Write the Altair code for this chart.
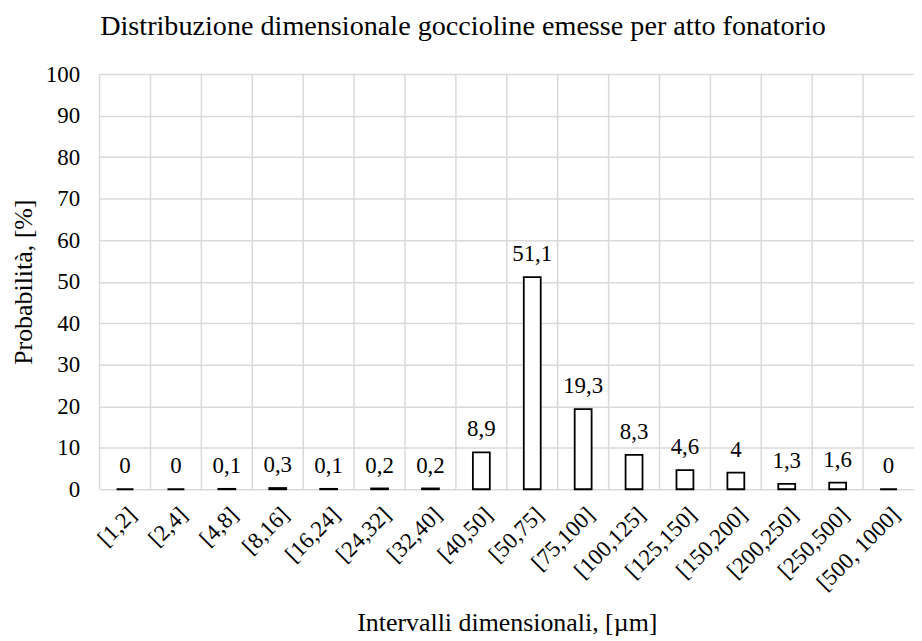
import altair as alt
import pandas as pd

categories = ["[1,2]", "[2,4]", "[4,8]", "[8,16]", "[16,24]", "[24,32]", "[32,40]",
              "[40,50]", "[50,75]", "[75,100]", "[100,125]", "[125,150]", "[150,200]",
              "[200,250]", "[250,500]", "[500, 1000]"]
values = [0, 0, 0.1, 0.3, 0.1, 0.2, 0.2, 8.9, 51.1, 19.3, 8.3, 4.6, 4, 1.3, 1.6, 0]
labels = [f"{v:g}".replace(".", ",") for v in values]

df = pd.DataFrame({"cat": categories, "val": values, "lab": labels})

FONT = "Liberation Serif"
GRID = "#d9d9d9"

xscale = alt.Scale(domain=categories, paddingInner=0, paddingOuter=0)

base = alt.Chart(df)

vgrid = base.mark_rule(color=GRID, strokeWidth=1.5).encode(
    x=alt.X("cat:N", bandPosition=0, scale=xscale, sort=categories)
)

bars = base.mark_bar(size=17, fill="white", stroke="black", strokeWidth=1.8).encode(
    x=alt.X("cat:N", scale=xscale, sort=categories,
            axis=alt.Axis(title="Intervalli dimensionali, [µm]", labelAngle=-45,
                          labelAlign="right", labelBaseline="top", labelPadding=14,
                          ticks=False, domain=False, grid=False, titlePadding=15)),
    y=alt.Y("val:Q", scale=alt.Scale(domain=[0, 100]),
            axis=alt.Axis(title="Probabilità, [%]", values=list(range(0, 101, 10)),
                          ticks=False, domain=False, labelPadding=20, titlePadding=9,
                          gridColor=GRID, gridWidth=1.5, gridOpacity=1))
)

text = base.mark_text(font=FONT, fontSize=23, baseline="middle", dy=-23, color="black").encode(
    x=alt.X("cat:N", scale=xscale, sort=categories),
    y=alt.Y("val:Q"),
    text="lab:N"
)

chart = alt.layer(vgrid, bars, text).properties(
    width=818, height=417,
    title=alt.TitleParams("Distribuzione dimensionale goccioline emesse per atto fonatorio",
                          font=FONT, fontSize=28.3, fontWeight="normal", color="black",
                          offset=22, dx=-44),
    padding={"left": 2, "top": 2, "right": 0, "bottom": 0}
).configure_axis(
    labelFont=FONT, titleFont=FONT, labelFontSize=23, titleFontSize=26,
    labelColor="black", titleColor="black", titleFontWeight="normal"
).configure_view(stroke=None)

chart.save("out.html", embed_options={"renderer": "svg", "actions": False})
